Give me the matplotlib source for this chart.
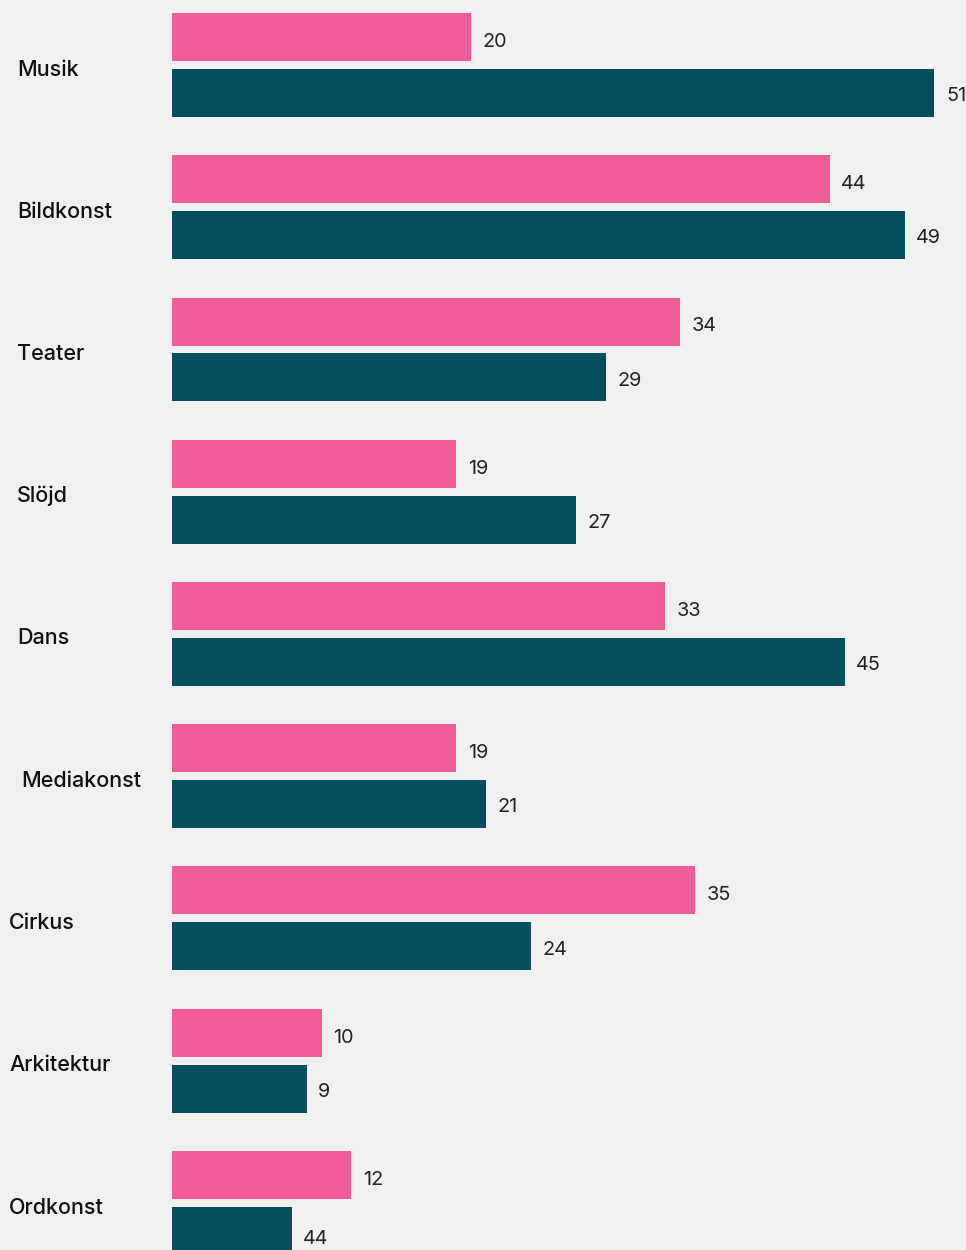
import matplotlib
matplotlib.use('Agg')
import matplotlib.pyplot as plt
import numpy as np

# Kategorier och värden (läst från bilden)
categories = ['Musik', 'Bildkonst', 'Teater', 'Slöjd', 'Dans',
              'Mediakonst', 'Cirkus', 'Arkitektur', 'Ordkonst']
pink_values = [20, 44, 34, 19, 33, 19, 35, 10, 12]
teal_values = [51, 49, 29, 27, 45, 21, 24, 9, 8]
teal_labels = ['51', '49', '29', '27', '45', '21', '24', '9', '44']
pink_labels = [str(v) for v in pink_values]

# layout (pixels in the 966x1250 picture)
W, H = 966, 1250
left_px = 172
px_per_unit = 14.95
spacing_px = 142.25
first_center_px = 65
bar_px = 48
offset_px = 28
label_x_px = [17, 17, 17, 17, 17, 21, 9, 9, 9]

pink = '#f05c9a'
teal = '#034f5f'
bg = '#f0f0f0'

plt.rcParams['font.family'] = ['Inter', 'DejaVu Sans']

fig = plt.figure(figsize=(W / 100, H / 100), dpi=100, facecolor=bg)
ax = fig.add_axes([left_px / W, 0, 1 - left_px / W, 1])
ax.set_facecolor(bg)

y = np.arange(len(categories))
h = bar_px / spacing_px
off = offset_px / spacing_px

ax.barh(y - off, pink_values, height=h, color=pink)
ax.barh(y + off, teal_values, height=h, color=teal)

for i in range(len(categories)):
    ax.annotate(pink_labels[i], (pink_values[i], y[i] - off), xytext=(8.3, -3.5),
                textcoords='offset points', va='center', ha='left',
                fontsize=14.3, color='#222222', annotation_clip=False)
    dy = -5.5 if i == len(categories) - 1 else -2.2
    ax.annotate(teal_labels[i], (teal_values[i], y[i] + off), xytext=(8.3, dy),
                textcoords='offset points', va='center', ha='left',
                fontsize=14.3, color='#222222', annotation_clip=False)
    fig.text(label_x_px[i] / W, 1 - (first_center_px + spacing_px * i + 4.5) / H,
             categories[i], va='center', ha='left', fontsize=15.5,
             fontweight='medium', color='#111111')

ax.set_xlim(0, (W - left_px) / px_per_unit)
ax.set_ylim((H - first_center_px) / spacing_px, -first_center_px / spacing_px)
ax.axis('off')

fig.savefig('out.png', dpi=100, facecolor=bg)
